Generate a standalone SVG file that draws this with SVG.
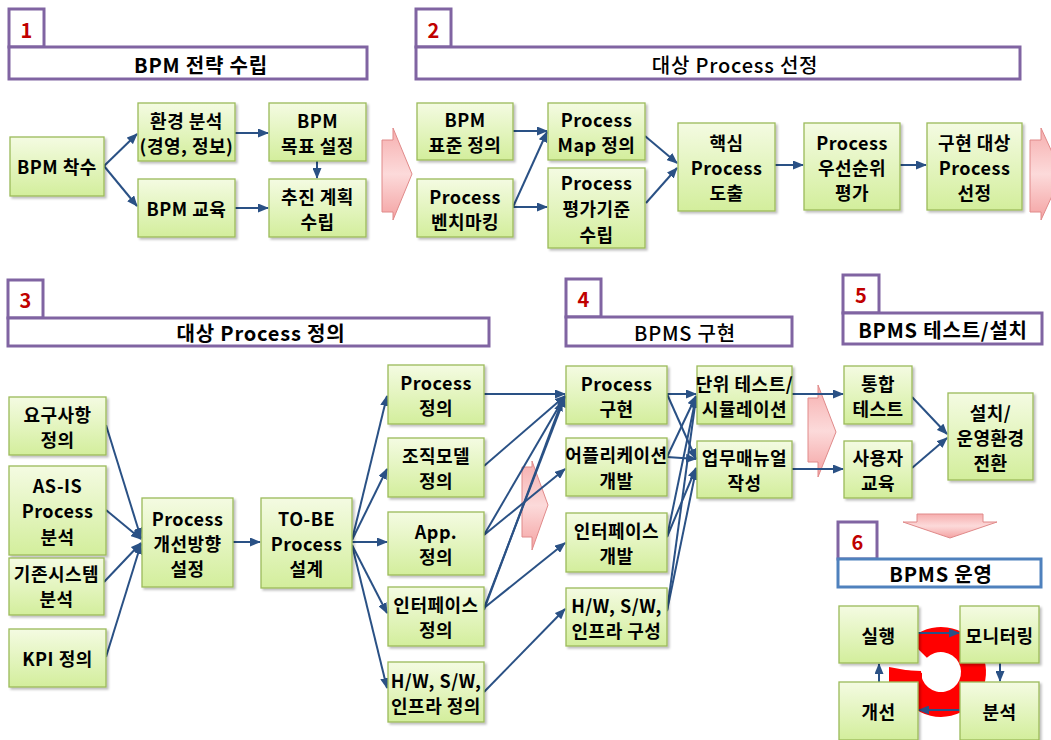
<svg xmlns="http://www.w3.org/2000/svg" width="1051" height="740" viewBox="0 0 1051 740">
<defs>
<linearGradient id="gNode" x1="0" y1="0" x2="0" y2="1">
<stop offset="0" stop-color="#f4fbe2"/>
<stop offset="1" stop-color="#d3ee9c"/>
</linearGradient>
<linearGradient id="gPink" x1="0" y1="0" x2="0" y2="1">
<stop offset="0" stop-color="#f6aeae"/>
<stop offset="0.5" stop-color="#fcdada"/>
<stop offset="1" stop-color="#f4a2a2"/>
</linearGradient>
<filter id="sh" x="-10%" y="-10%" width="130%" height="130%">
<feDropShadow dx="2" dy="2" stdDeviation="1.2" flood-color="#000" flood-opacity="0.25"/>
</filter>
<marker id="ah" markerUnits="userSpaceOnUse" markerWidth="11" markerHeight="9" refX="10" refY="4.5" orient="auto">
<path d="M0,0 L11,4.5 L0,9 z" fill="#2a5185"/>
</marker>
<style>
.node rect{fill:url(#gNode);stroke:#9bbb59;stroke-width:1.3;filter:url(#sh)}
.node text{font-family:"Noto Sans CJK KR","Noto Sans",sans-serif;font-weight:bold;font-size:18px;fill:#000;text-anchor:middle;dominant-baseline:central;letter-spacing:0.5px}
.hdr rect{fill:#fff;stroke:#8064a2;stroke-width:3}
.hdr .blue{stroke:#4f81bd}
.hdr text.t{font-family:"Noto Sans CJK KR","Noto Sans",sans-serif;font-weight:bold;font-size:20px;fill:#000;text-anchor:middle;dominant-baseline:central;letter-spacing:0.8px}
.hdr text.thin{font-weight:500}
.hdr text.n{font-family:"Noto Sans CJK KR","Noto Sans",sans-serif;font-weight:bold;font-size:20px;fill:#c00000;text-anchor:middle;dominant-baseline:central}
.pink{fill:url(#gPink);stroke:#e08a8a;stroke-width:1}
#connectors line{stroke:#2a5185;stroke-width:2;fill:none;marker-end:url(#ah)}
</style>
</defs>
<rect width="1051" height="740" fill="#fff"/>

<!-- headers -->
<g id="hdr1" class="hdr"><rect x="9" y="9" width="35" height="38"/><rect x="9" y="47" width="358" height="32"/><text class="n" x="26.5" y="29">1</text><text class="t" x="201" y="64">BPM 전략 수립</text></g>
<g id="hdr2" class="hdr"><rect x="416" y="9" width="35" height="38"/><rect x="416" y="47" width="604" height="32"/><text class="n" x="433.5" y="29">2</text><text class="t thin" x="735" y="64">대상 Process 선정</text></g>
<g id="hdr3" class="hdr"><rect x="8" y="280" width="35" height="38"/><rect x="8" y="318" width="481" height="28"/><text class="n" x="25.5" y="299">3</text><text class="t" x="261" y="332">대상 Process 정의</text></g>
<g id="hdr4" class="hdr"><rect x="566" y="279" width="35" height="38"/><rect x="566" y="317" width="226" height="29"/><text class="n" x="583.5" y="298">4</text><text class="t thin" x="685" y="332">BPMS 구현</text></g>
<g id="hdr5" class="hdr"><rect x="843" y="275" width="36" height="38"/><rect x="843" y="313" width="199" height="31"/><text class="n" x="861" y="294">5</text><text class="t" x="943" y="329">BPMS 테스트/설치</text></g>
<g id="hdr6" class="hdr"><rect x="838" y="522" width="39" height="37"/><rect class="blue" x="838" y="559" width="203" height="28"/><text class="n" x="857.5" y="541">6</text><text class="t" x="941" y="573">BPMS 운영</text></g>

<!-- pink process arrows -->
<g id="bigarrows">
<polygon class="pink" points="382,140 393,140 393,128 412,174 393,220 393,212 382,212"/>
<polygon class="pink" points="1030,140 1041,140 1041,128 1062,174 1041,220 1041,212 1030,212"/>
<polygon class="pink" points="522,467 532,467 532,461 548,505 532,550 532,537 522,537"/>
<polygon class="pink" points="808,398 818,398 818,385 836,432 818,477 818,462 808,462"/>
<polygon class="pink" points="917,514 983,514 983,522 997,522 950,538 903,522 917,522"/>
</g>

<!-- cycle ring -->
<g id="cycle">
<path d="M909.18,640.18 A45,45 0 1 1 896.06,669.65 L921.03,670.95 A20,20 0 1 0 926.86,657.86 Z" fill="#ff0000"/>
<polygon points="889,667 922,673 922,692 889,692" fill="#ff0000"/>
</g>

<!-- connectors -->
<g id="connectors">
<line x1="104" y1="166" x2="137" y2="134"/>
<line x1="104" y1="166" x2="137" y2="206"/>
<line x1="235" y1="133" x2="268" y2="133"/>
<line x1="235" y1="208" x2="268" y2="208"/>
<line x1="317" y1="161" x2="317" y2="178"/>

<line x1="513" y1="131" x2="547" y2="131"/>
<line x1="513" y1="207" x2="547" y2="132"/>
<line x1="513" y1="207" x2="547" y2="207"/>
<line x1="645" y1="136" x2="677" y2="163"/>
<line x1="646" y1="203" x2="677" y2="168"/>
<line x1="775" y1="165" x2="803" y2="165"/>
<line x1="900" y1="165" x2="926" y2="165"/>

<line x1="106" y1="425" x2="141" y2="538"/>
<line x1="106" y1="510" x2="141" y2="539"/>
<line x1="104" y1="582" x2="141" y2="543"/>
<line x1="106" y1="657" x2="141" y2="544"/>
<line x1="233" y1="542" x2="260" y2="542"/>
<line x1="352" y1="540" x2="387" y2="396"/>
<line x1="352" y1="540" x2="387" y2="469"/>
<line x1="352" y1="542" x2="387" y2="542"/>
<line x1="352" y1="545" x2="387" y2="613"/>
<line x1="352" y1="545" x2="387" y2="688"/>

<line x1="484" y1="394" x2="565" y2="394"/>
<line x1="484" y1="466" x2="565" y2="396"/>
<line x1="484" y1="535" x2="565" y2="396"/>
<line x1="484" y1="535" x2="565" y2="469"/>
<line x1="484" y1="608" x2="565" y2="397"/>
<line x1="484" y1="610" x2="562" y2="401"/>
<line x1="484" y1="608" x2="565" y2="543"/>
<line x1="484" y1="692" x2="565" y2="609"/>

<line x1="667" y1="394" x2="696" y2="394"/>
<line x1="667" y1="394" x2="696" y2="459"/>
<line x1="667" y1="457" x2="696" y2="459"/>
<line x1="667" y1="457" x2="696" y2="396"/>
<line x1="667" y1="537" x2="696" y2="397"/>
<line x1="667" y1="537" x2="696" y2="468"/>
<line x1="667" y1="611" x2="696" y2="398"/>
<line x1="667" y1="611" x2="696" y2="470"/>

<line x1="792" y1="394" x2="843" y2="394"/>
<line x1="792" y1="469" x2="843" y2="469"/>
<line x1="912" y1="397" x2="947" y2="434"/>
<line x1="912" y1="468" x2="947" y2="438"/>

<line x1="918" y1="633" x2="959" y2="633"/>
<line x1="1000" y1="663" x2="1000" y2="681"/>
<line x1="960" y1="710" x2="919" y2="710"/>
<line x1="879" y1="682" x2="879" y2="664"/>
</g>

<!-- section 1 nodes -->
<g id="n1a" class="node"><rect x="10" y="137" width="94" height="59"/><text x="57" y="166">BPM 착수</text></g>
<g id="n1b" class="node"><rect x="138" y="103" width="97" height="58"/><text x="186.5" y="119.5">환경 분석</text><text x="186.5" y="144.5">(경영, 정보)</text></g>
<g id="n1c" class="node"><rect x="138" y="179" width="97" height="58"/><text x="186.5" y="208">BPM 교육</text></g>
<g id="n1d" class="node"><rect x="269" y="103" width="97" height="58"/><text x="317.5" y="119.5">BPM</text><text x="317.5" y="144.5">목표 설정</text></g>
<g id="n1e" class="node"><rect x="269" y="179" width="97" height="58"/><text x="317.5" y="195.5">추진 계획</text><text x="317.5" y="220.5">수립</text></g>

<!-- section 2 nodes -->
<g id="n2a" class="node"><rect x="417" y="103" width="96" height="57"/><text x="465" y="119">BPM</text><text x="465" y="144">표준 정의</text></g>
<g id="n2b" class="node"><rect x="417" y="179" width="96" height="58"/><text x="465" y="195.5">Process</text><text x="465" y="220.5">벤치마킹</text></g>
<g id="n2c" class="node"><rect x="548" y="103" width="97" height="57"/><text x="596.5" y="119">Process</text><text x="596.5" y="144">Map 정의</text></g>
<g id="n2d" class="node"><rect x="548" y="168" width="97" height="80"/><text x="596.5" y="182">Process</text><text x="596.5" y="208">평가기준</text><text x="596.5" y="234">수립</text></g>
<g id="n2e" class="node"><rect x="678" y="123" width="97" height="88"/><text x="726.5" y="142">핵심</text><text x="726.5" y="167">Process</text><text x="726.5" y="192">도출</text></g>
<g id="n2f" class="node"><rect x="804" y="123" width="96" height="87"/><text x="852" y="141.5">Process</text><text x="852" y="166.5">우선순위</text><text x="852" y="191.5">평가</text></g>
<g id="n2g" class="node"><rect x="927" y="123" width="95" height="87"/><text x="974.5" y="141.5">구현 대상</text><text x="974.5" y="166.5">Process</text><text x="974.5" y="191.5">선정</text></g>

<!-- section 3 nodes -->
<g id="n3a" class="node"><rect x="9" y="397" width="97" height="58"/><text x="57.5" y="413.5">요구사항</text><text x="57.5" y="438.5">정의</text></g>
<g id="n3b" class="node"><rect x="9" y="466" width="97" height="89"/><text x="57.5" y="484.5">AS-IS</text><text x="57.5" y="510">Process</text><text x="57.5" y="535.5">분석</text></g>
<g id="n3c" class="node"><rect x="9" y="558" width="95" height="57"/><text x="56.5" y="573">기존시스템</text><text x="56.5" y="598">분석</text></g>
<g id="n3d" class="node"><rect x="9" y="629" width="97" height="58"/><text x="57.5" y="658">KPI 정의</text></g>
<g id="n3e" class="node"><rect x="142" y="498" width="91" height="89"/><text x="187.5" y="517.5">Process</text><text x="187.5" y="542.5">개선방향</text><text x="187.5" y="567.5">설정</text></g>
<g id="n3f" class="node"><rect x="261" y="498" width="91" height="90"/><text x="306.5" y="518">TO-BE</text><text x="306.5" y="543">Process</text><text x="306.5" y="568">설계</text></g>
<g id="n3g" class="node"><rect x="388" y="365" width="96" height="59"/><text x="436" y="382">Process</text><text x="436" y="407">정의</text></g>
<g id="n3h" class="node"><rect x="388" y="438" width="96" height="59"/><text x="436" y="455">조직모델</text><text x="436" y="480">정의</text></g>
<g id="n3i" class="node"><rect x="388" y="512" width="96" height="63"/><text x="436" y="531">App.</text><text x="436" y="556">정의</text></g>
<g id="n3j" class="node"><rect x="388" y="587" width="96" height="59"/><text x="436" y="604">인터페이스</text><text x="436" y="629">정의</text></g>
<g id="n3k" class="node"><rect x="388" y="662" width="96" height="60"/><text x="436" y="679.5">H/W, S/W,</text><text x="436" y="704.5">인프라 정의</text></g>

<!-- section 4 nodes -->
<g id="n4a" class="node"><rect x="566" y="366" width="101" height="58"/><text x="616.5" y="382.5">Process</text><text x="616.5" y="407.5">구현</text></g>
<g id="n4b" class="node"><rect x="566" y="438" width="101" height="58"/><text x="616.5" y="454">어플리케이션</text><text x="616.5" y="480">개발</text></g>
<g id="n4c" class="node"><rect x="566" y="513" width="101" height="59"/><text x="616.5" y="530">인터페이스</text><text x="616.5" y="555">개발</text></g>
<g id="n4d" class="node"><rect x="566" y="588" width="101" height="58"/><text x="616.5" y="604.5">H/W, S/W,</text><text x="616.5" y="629.5">인프라 구성</text></g>
<g id="n4e" class="node"><rect x="697" y="366" width="95" height="58"/><text x="744.5" y="382.5">단위 테스트/</text><text x="744.5" y="407.5">시뮬레이션</text></g>
<g id="n4f" class="node"><rect x="697" y="441" width="95" height="57"/><text x="744.5" y="457">업무매뉴얼</text><text x="744.5" y="482">작성</text></g>

<!-- section 5 nodes -->
<g id="n5a" class="node"><rect x="844" y="366" width="68" height="58"/><text x="878" y="382.5">통합</text><text x="878" y="407.5">테스트</text></g>
<g id="n5b" class="node"><rect x="844" y="441" width="68" height="57"/><text x="878" y="457">사용자</text><text x="878" y="482">교육</text></g>
<g id="n5c" class="node"><rect x="948" y="393" width="85" height="87"/><text x="990.5" y="411.5">설치/</text><text x="990.5" y="436.5">운영환경</text><text x="990.5" y="461.5">전환</text></g>

<!-- section 6 nodes -->
<g id="n6a" class="node"><rect x="839" y="606" width="79" height="57"/><text x="878.5" y="634.5">실행</text></g>
<g id="n6b" class="node"><rect x="960" y="606" width="79" height="57"/><text x="999.5" y="634.5">모니터링</text></g>
<g id="n6c" class="node"><rect x="839" y="682" width="79" height="58"/><text x="878.5" y="711">개선</text></g>
<g id="n6d" class="node"><rect x="960" y="682" width="79" height="58"/><text x="999.5" y="711">분석</text></g>
</svg>
